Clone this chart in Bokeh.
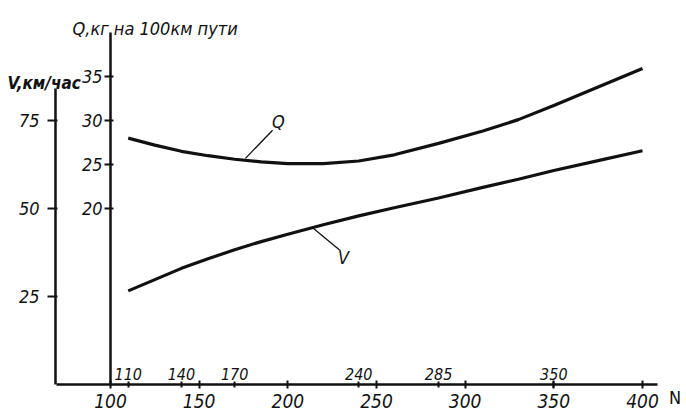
from bokeh.plotting import figure
from bokeh.models import LinearAxis, Range1d, FixedTicker, Label, ColumnDataSource
from bokeh.embed import file_html
from bokeh.resources import INLINE

# ---- data ----
N_vals = [110, 125, 140, 155, 170, 185, 200, 220, 240, 260, 285, 310, 330, 350, 375, 400]
Q_vals = [28.0, 27.2, 26.5, 26.0, 25.6, 25.3, 25.1, 25.1, 25.4, 26.1, 27.4, 28.8, 30.1, 31.7, 33.8, 35.9]
V_vals = [26.6, 29.8, 33.0, 35.7, 38.3, 40.6, 42.7, 45.4, 47.9, 50.2, 53.0, 56.0, 58.3, 60.8, 63.6, 66.4]

x_ticks = [100, 150, 200, 250, 300, 350, 400]
n_marks = [110, 140, 170, 240, 285, 350]
q_ticks = [20, 25, 30, 35]
v_ticks = [25, 50, 75]

FONT = "DejaVu Sans Condensed"
INK = "#111111"

Q_MIN, Q_MAX = -3.18, 42.5
V_PER_Q = 2.5

p = figure(width=686, height=412, output_backend="svg", toolbar_location=None,
           x_range=Range1d(37.97, 424.82), y_range=Range1d(Q_MIN, Q_MAX),
           x_axis_location=None, y_axis_location=None,
           min_border_left=0, min_border_right=0, min_border_top=10, min_border_bottom=0)
p.outline_line_color = None
p.grid.visible = False
p.background_fill_color = "white"
p.border_fill_color = "white"
p.extra_y_ranges = {"v": Range1d(Q_MIN * V_PER_Q, Q_MAX * V_PER_Q)}

def style(ax, size="18px"):
    ax.axis_line_color = INK
    ax.axis_line_width = 2.5
    ax.major_tick_line_color = INK
    ax.major_tick_line_width = 2
    ax.minor_tick_line_color = None
    ax.major_label_text_font = FONT
    ax.major_label_text_font_style = "italic"
    ax.major_label_text_font_size = size
    ax.major_label_text_color = INK

# V axis (leftmost)
v_axis = LinearAxis(y_range_name="v", bounds=(0, 84), ticker=FixedTicker(ticks=v_ticks),
                    fixed_location=68.98)
style(v_axis)
v_axis.major_tick_out = 8
v_axis.major_tick_in = 2
v_axis.major_label_standoff = 8
p.add_layout(v_axis, "left")

# Q axis at N = 100
q_axis = LinearAxis(bounds=(0, 40), ticker=FixedTicker(ticks=q_ticks), fixed_location=100)
style(q_axis)
q_axis.major_tick_out = 6
q_axis.major_tick_in = 3
q_axis.major_label_standoff = 2
p.add_layout(q_axis, "left")

# N axis at Q = 0
x_axis = LinearAxis(bounds=(69.5, 408.5), ticker=FixedTicker(ticks=x_ticks), fixed_location=0)
style(x_axis, "19px")
x_axis.major_tick_out = 4
x_axis.major_tick_in = 4
x_axis.major_label_standoff = 5
p.add_layout(x_axis, "below")

# marks above N axis
m_axis = LinearAxis(ticker=FixedTicker(ticks=n_marks), fixed_location=0)
style(m_axis, "16px")
m_axis.axis_line_color = None
m_axis.major_tick_out = 3
m_axis.major_tick_in = 3
m_axis.major_label_standoff = 2
p.add_layout(m_axis, "above")

src = ColumnDataSource(dict(N=N_vals, Q=Q_vals, V=V_vals))
p.line("N", "Q", source=src, line_color=INK, line_width=3.2)
p.line("N", "V", source=src, line_color=INK, line_width=3.2, y_range_name="v")

# leader lines
p.segment(x0=[176.1], y0=[25.7], x1=[191.4], y1=[28.9], line_color=INK, line_width=1.3)
p.segment(x0=[214.5], y0=[44.3], x1=[229.7], y1=[38.0], line_color=INK, line_width=1.3,
          y_range_name="v")

def lab(x, y, t, size="18px", align="center", base="middle", style_="italic", yr="default"):
    kw = dict(x=x, y=y, text=t, text_font=FONT, text_font_size=size,
              text_font_style=style_, text_align=align, text_baseline=base,
              text_color=INK)
    if yr != "default":
        kw["y_range_name"] = yr
    p.add_layout(Label(**kw))

lab(194.7, 29.9, "Q")
lab(231.4, 36.0, "V", yr="v")
lab(78.6, 40.45, "Q,кг на 100км пути", size="18px", align="left", base="alphabetic")
lab(41.9, 34.3, "V,км/час", size="17px", align="left", base="alphabetic", style_="bold italic")
lab(415.0, -1.5, "N", size="18px", align="left", base="middle", style_="normal")

open("out.html", "w").write(file_html(p, INLINE))
